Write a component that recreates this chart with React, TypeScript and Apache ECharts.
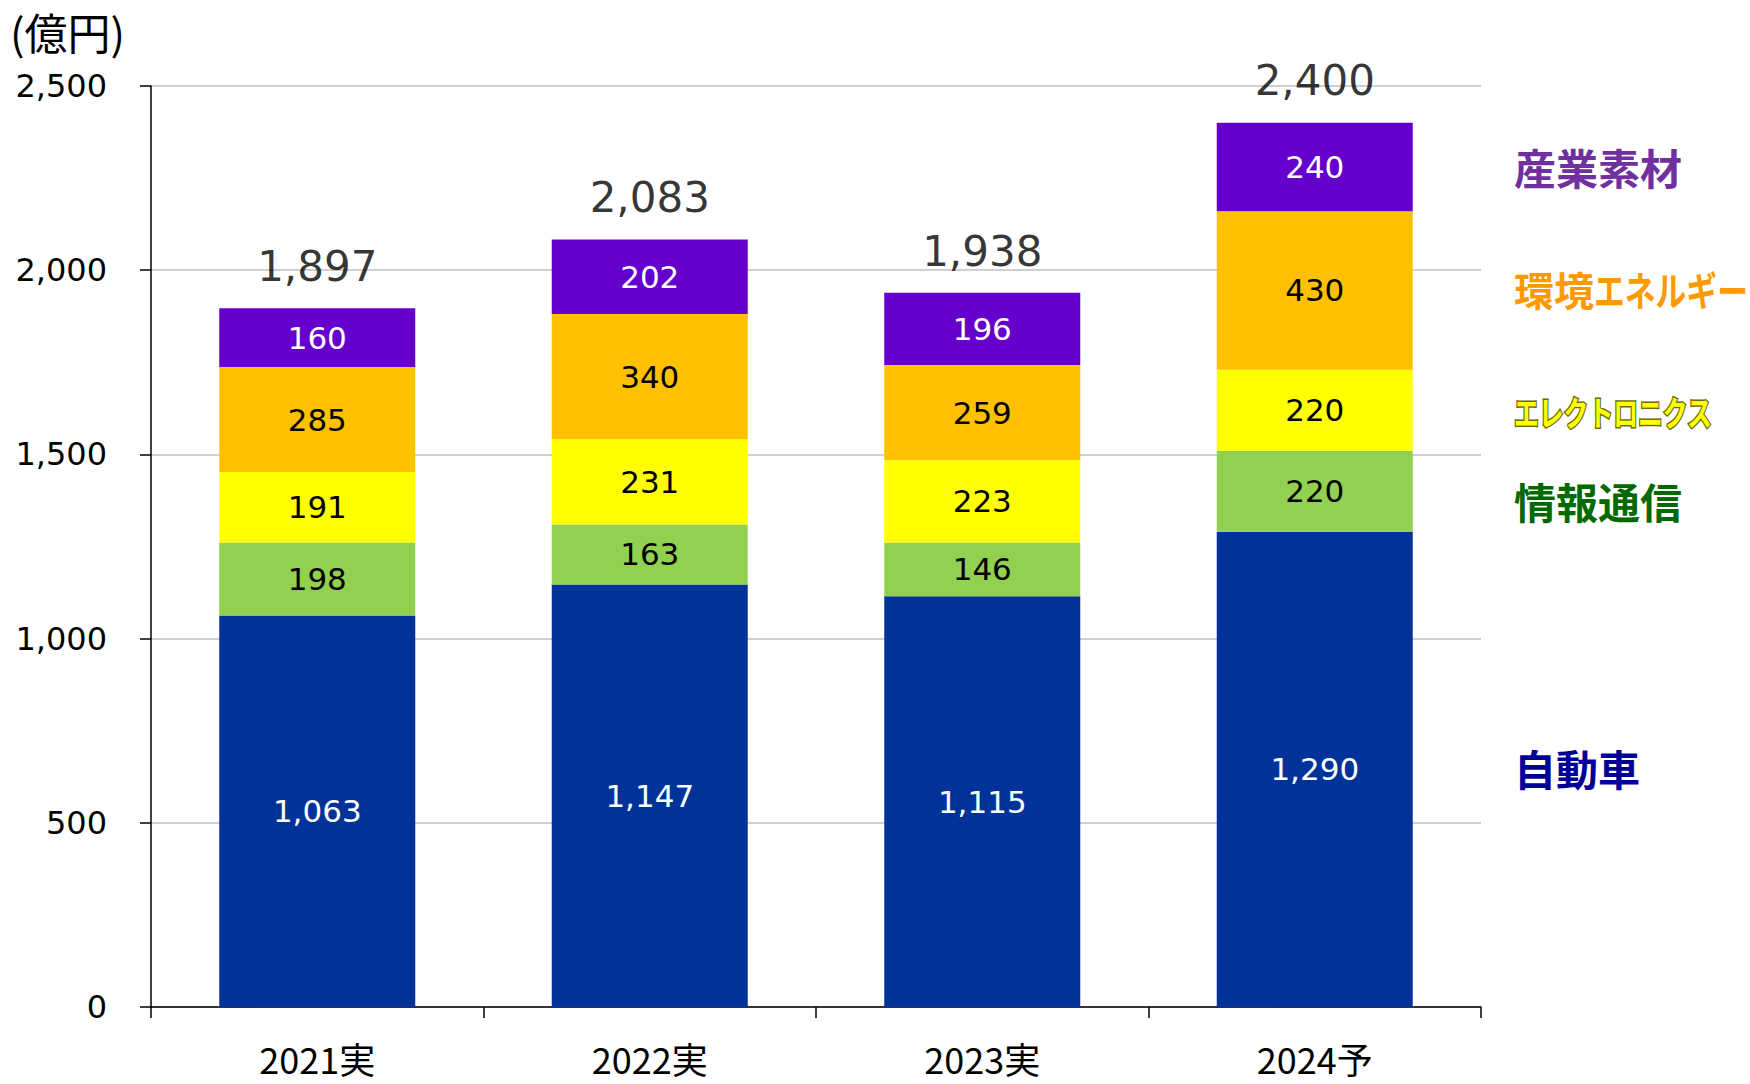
import React, { useEffect, useRef } from "react";
import * as echarts from "echarts";

const categories = ["2021実", "2022実", "2023実", "2024予"];
const automotive = [1063, 1147, 1115, 1290];
const infoComm = [198, 163, 146, 220];
const electronics = [191, 231, 223, 220];
const energy = [285, 340, 259, 430];
const materials = [160, 202, 196, 240];
const totals = [1897, 2083, 1938, 2400];
const yTicks = { min: 0, max: 2500, interval: 500 };

const fmt = (v: number) => Number(v).toLocaleString("en-US");
const NUM_FONT = "'DejaVu Sans', Verdana, sans-serif";
const JP_FONT = "'Noto Sans CJK JP', sans-serif";

export default function App() {
  const ref = useRef<HTMLDivElement>(null);
  useEffect(() => {
    if (!ref.current) return;
    const chart = echarts.init(ref.current, null, { renderer: "svg" });
    const segLabel = (color: string) => ({
      show: true,
      position: "inside" as const,
      color,
      fontFamily: NUM_FONT,
      fontSize: 31,
      formatter: (p: any) => fmt(p.value),
    });
    const mk = (name: string, data: number[], color: string, labelColor: string) => ({
      name,
      type: "bar" as const,
      stack: "total",
      data,
      barWidth: 196,
      itemStyle: { color },
      label: segLabel(labelColor),
    });
    chart.setOption({
      animation: false,
      backgroundColor: "#ffffff",
      grid: { left: 151, right: 269, top: 86, bottom: 77, containLabel: false },
      xAxis: {
        type: "category",
        data: categories,
        axisLine: { lineStyle: { color: "#000", width: 1.5 } },
        axisTick: { show: true, length: 11, lineStyle: { color: "#000", width: 1.5 } },
        axisLabel: { color: "#000", fontFamily: JP_FONT, fontSize: 36, lineHeight: 32, margin: 35 },
      },
      yAxis: {
        type: "value",
        min: yTicks.min,
        max: yTicks.max,
        interval: yTicks.interval,
        axisLine: { show: true, lineStyle: { color: "#000", width: 1.5 } },
        axisTick: { show: true, length: 11, lineStyle: { color: "#000", width: 1.5 } },
        axisLabel: {
          color: "#000",
          fontFamily: NUM_FONT,
          fontSize: 32,
          margin: 44,
          formatter: (v: number) => fmt(v),
        },
        splitLine: { show: true, lineStyle: { color: "#bfbfbf", width: 1.5 } },
      },
      series: [
        mk("自動車", automotive, "#003399", "#ffffff"),
        mk("情報通信", infoComm, "#92D050", "#000000"),
        mk("エレクトロニクス", electronics, "#FFFF00", "#000000"),
        mk("環境エネルギー", energy, "#FFC000", "#000000"),
        mk("産業素材", materials, "#6600CC", "#ffffff"),
        {
          name: "合計",
          type: "scatter",
          data: totals,
          symbolSize: 0,
          label: {
            show: true,
            position: "top",
            distance: 21,
            color: "#000",
            fontFamily: NUM_FONT,
            fontSize: 42,
            formatter: (p: any) => fmt(totals[p.dataIndex]),
          },
          z: 10,
        },
      ],
      graphic: [
        {
          type: "text",
          x: 10,
          y: 31,
          style: { text: "(億円)", fontFamily: JP_FONT, fontSize: 43, fill: "#000", verticalAlign: "middle", align: "left" },
        },
        {
          type: "text",
          x: 1514,
          y: 166,
          style: { text: "産業素材", fontFamily: JP_FONT, fontWeight: "bold", fontSize: 42, fill: "#7030A0", verticalAlign: "middle", align: "left" },
        },
        {
          type: "text",
          x: 1514,
          y: 289,
          style: { text: "環境", fontFamily: JP_FONT, fontWeight: "bold", fontSize: 40, fill: "#FF9900", verticalAlign: "middle", align: "left" },
        },
        {
          type: "text",
          x: 1594,
          y: 289,
          scaleX: 0.77,
          style: { text: "エネルギー", fontFamily: JP_FONT, fontWeight: "bold", fontSize: 40, fill: "#FF9900", verticalAlign: "middle", align: "left" },
        },
        {
          type: "text",
          x: 1514,
          y: 411,
          scaleX: 0.73,
          style: { text: "エレクトロニクス", fontFamily: JP_FONT, fontWeight: "bold", fontSize: 34, fill: "#FFFF00", stroke: "#6b6b00", lineWidth: 3, verticalAlign: "middle", align: "left" },
        },
        {
          type: "text",
          x: 1514,
          y: 500,
          style: { text: "情報通信", fontFamily: JP_FONT, fontWeight: "bold", fontSize: 42, fill: "#006a00", verticalAlign: "middle", align: "left" },
        },
        {
          type: "text",
          x: 1514,
          y: 767,
          style: { text: "自動車", fontFamily: JP_FONT, fontWeight: "bold", fontSize: 42, fill: "#000099", verticalAlign: "middle", align: "left" },
        },
      ],
    });
    return () => chart.dispose();
  }, []);
  return (
    <div
      ref={ref}
      style={{ position: "fixed", left: 0, top: 0, width: 1750, height: 1084, background: "#fff" }}
    />
  );
}
